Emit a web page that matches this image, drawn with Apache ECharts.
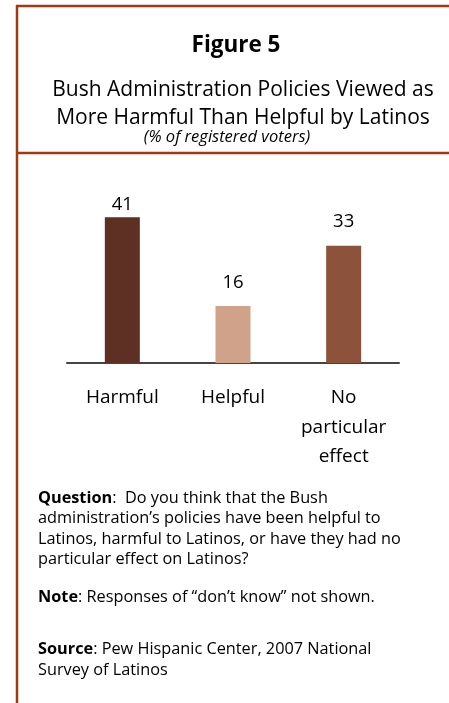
<!DOCTYPE html>
<html>
<head>
<meta charset="utf-8">
<script src="https://cdn.jsdelivr.net/npm/echarts@6/dist/echarts.min.js"></script>
<style>
  html, body { margin: 0; padding: 0; background: #fff; }
  #chart { width: 449px; height: 703px; }
</style>
</head>
<body>
<div id="chart"></div>
<script>
// Survey responses (% of registered voters)
const categories = ['Harmful', 'Helpful', 'No\nparticular\neffect'];
const values = [41, 16, 33];
const barColors = ['#5e2f23', '#d0a289', '#8c523b'];
const labelGaps = [3, 14, 14];

const FONT = '"Open Sans", "Liberation Sans", sans-serif';
const RUST = '#a03a12';

const chart = echarts.init(document.getElementById('chart'), null, { renderer: 'canvas' });

chart.setOption({
  backgroundColor: '#ffffff',
  animation: false,
  title: [
    {
      text: 'Figure 5',
      left: 231, top: 29, textAlign: 'center',
      textStyle: { fontFamily: FONT, fontWeight: 'bold', fontSize: 22.5, color: '#000' }
    },
    {
      text: 'Bush Administration Policies Viewed as\nMore Harmful Than Helpful by Latinos',
      left: 238, top: 71, textAlign: 'center',
      textStyle: { fontFamily: FONT, fontWeight: 'normal', fontSize: 21, lineHeight: 28, color: '#000' }
    },
    {
      text: '(% of registered voters)',
      left: 222, top: 124, textAlign: 'center',
      textStyle: { fontFamily: FONT, fontStyle: 'italic', fontWeight: 'normal', fontSize: 16.5, color: '#000' }
    }
  ],
  grid: { left: 67, right: 50, top: 203, bottom: 703 - 363, containLabel: false },
  xAxis: {
    type: 'category',
    data: categories,
    axisLine: { lineStyle: { color: '#444', width: 2 } },
    axisTick: { show: false },
    axisLabel: {
      margin: 20, color: '#000', fontFamily: FONT, fontSize: 19, lineHeight: 29.5,
      verticalAlign: 'top', interval: 0
    }
  },
  yAxis: { type: 'value', min: 0, max: 45, show: false },
  series: [{
    type: 'bar',
    barWidth: 35,
    data: values.map((v, i) => ({
      value: v,
      itemStyle: { color: barColors[i] },
      label: { distance: labelGaps[i] }
    })),
    label: {
      show: true, position: 'top', color: '#000',
      fontFamily: FONT, fontSize: 18.5
    }
  }],
  graphic: [
    // Frame: top rule, left rule, and the divider under the heading
    { type: 'line', shape: { x1: 16, y1: 6, x2: 449, y2: 6 }, style: { stroke: RUST, lineWidth: 2.5 } },
    { type: 'line', shape: { x1: 17, y1: 5, x2: 17, y2: 703 }, style: { stroke: RUST, lineWidth: 2.5 } },
    { type: 'line', shape: { x1: 17, y1: 153, x2: 449, y2: 153 }, style: { stroke: RUST, lineWidth: 2.5 } },
    {
      type: 'text', left: 38, top: 488,
      style: {
        text: '{b|Question}:  Do you think that the Bush\nadministration\u2019s policies have been helpful to\nLatinos, harmful to Latinos, or have they had no\nparticular effect on Latinos?',
        fontFamily: FONT, fontSize: 16.3, lineHeight: 20.5, fill: '#000',
        rich: { b: { fontFamily: FONT, fontWeight: 'bold', fontSize: 16.3, lineHeight: 20.5 } }
      }
    },
    {
      type: 'text', left: 38, top: 587,
      style: {
        text: '{b|Note}: Responses of \u201cdon\u2019t know\u201d not shown.',
        fontFamily: FONT, fontSize: 16.3, lineHeight: 20.5, fill: '#000',
        rich: { b: { fontFamily: FONT, fontWeight: 'bold', fontSize: 16.3, lineHeight: 20.5 } }
      }
    },
    {
      type: 'text', left: 38, top: 639,
      style: {
        text: '{b|Source}: Pew Hispanic Center, 2007 National\nSurvey of Latinos',
        fontFamily: FONT, fontSize: 16.3, lineHeight: 21, fill: '#000',
        rich: { b: { fontFamily: FONT, fontWeight: 'bold', fontSize: 16.3, lineHeight: 21 } }
      }
    }
  ]
});
</script>
</body>
</html>
